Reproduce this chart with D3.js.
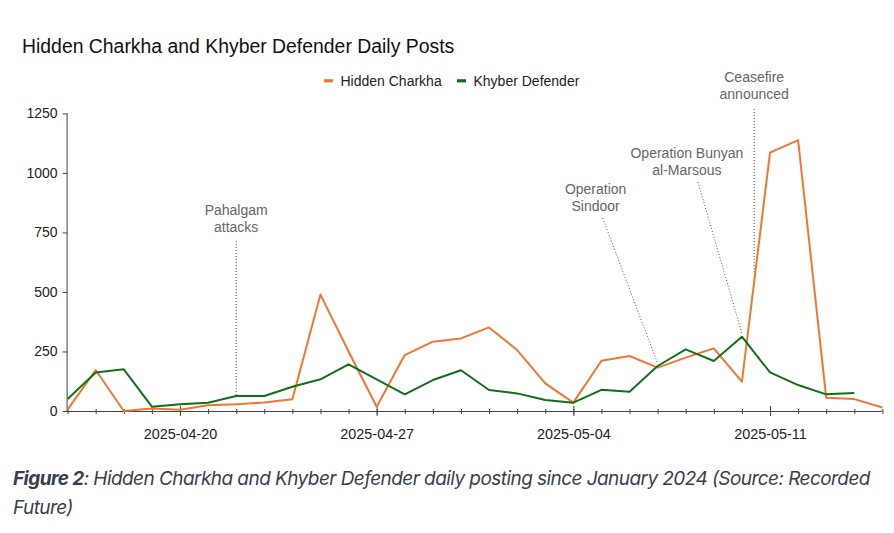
<!DOCTYPE html>
<html>
<head>
<meta charset="utf-8">
<script src="https://cdn.jsdelivr.net/npm/d3@7"></script>
<style>
  body { margin: 0; background: #fff; }
  svg { display: block; font-family: "Liberation Sans", Arial, sans-serif; }
</style>
</head>
<body>
<div id="chart"></div>
<script>
// daily post counts
var dates = ["2025-04-16","2025-04-17","2025-04-18","2025-04-19","2025-04-20","2025-04-21","2025-04-22",
  "2025-04-23","2025-04-24","2025-04-25","2025-04-26","2025-04-27","2025-04-28","2025-04-29","2025-04-30",
  "2025-05-01","2025-05-02","2025-05-03","2025-05-04","2025-05-05","2025-05-06","2025-05-07","2025-05-08",
  "2025-05-09","2025-05-10","2025-05-11","2025-05-12","2025-05-13","2025-05-14","2025-05-15"];
var hiddenCharkha = [6, 172, 0, 11, 5, 24, 28, 36, 49, 489, 250, 18, 235, 291, 305, 351, 256, 116, 35,
  211, 231, 182, 224, 263, 123, 1085, 1138, 56, 50, 15];
var khyberDefender = [50, 162, 175, 18, 28, 35, 63, 63, 102, 133, 196, 133, 70, 130, 171, 88, 74, 46, 35,
  89, 81, 189, 259, 210, 312, 162, 109, 70, 76, null];
var seriesNames = ["Hidden Charkha", "Khyber Defender"];
var yTicks = [0, 250, 500, 750, 1000, 1250];

// event annotations
var eventDates = ["2025-04-22T00:00", "2025-05-07T00:00", "2025-05-10T00:00", "2025-05-10T10:30"];
var eventValues = [63, 200, 326, 580];
var eventLabels = [["Pahalgam", "attacks"], ["Operation", "Sindoor"],
  ["Operation Bunyan", "al-Marsous"], ["Ceasefire", "announced"]];

var titleText = "Hidden Charkha and Khyber Defender Daily Posts";
var captionBold = "Figure 2";
var captionLines = [": Hidden Charkha and Khyber Defender daily posting since January 2024 (Source: Recorded", "Future)"];

// layout for the annotation labels: text offset from the event x, first line centre y, start of the leader line
var eventLayout = [
  {tdx: 0, ty: 210, ldx: 0, ly: 241},
  {tdx: -62, ty: 189, ldx: -55, ly: 218},
  {tdx: -55, ty: 153, ldx: -44, ly: 182},
  {tdx: 0, ty: 77, ldx: 0, ly: 109}
];

var W = 894, H = 533;
var colors = ["#f07634", "#11701a"];
var parse = d3.timeParse("%Y-%m-%d");
var parseT = d3.timeParse("%Y-%m-%dT%H:%M");

var svg = d3.select("#chart").append("svg")
  .attr("width", W).attr("height", H);

svg.append("rect").attr("width", W).attr("height", H).attr("fill", "#fff");

var x = d3.scaleTime()
  .domain([parse(dates[0]), parse(dates[dates.length - 1])])
  .range([67.6, 882.4]);

var y = d3.scaleLinear()
  .domain([0, 1250])
  .range([411, 113.4]);

// title
svg.append("text")
  .attr("x", 22).attr("y", 53)
  .attr("font-size", 19.4).attr("fill", "#111")
  .text(titleText);

// legend
var legend = svg.append("g");
var legX = [324, 457];
seriesNames.forEach(function(n, i) {
  legend.append("rect")
    .attr("x", legX[i]).attr("y", 79.2).attr("width", 9).attr("height", 3.2)
    .attr("fill", colors[i]);
  legend.append("text")
    .attr("x", legX[i] + 16.5).attr("y", 86)
    .attr("font-size", 14).attr("fill", "#222")
    .text(n);
});

// x axis: daily minor ticks, weekly labelled ticks
var xMinor = svg.append("g")
  .attr("transform", "translate(0," + y(0) + ")")
  .call(d3.axisBottom(x).ticks(d3.timeDay.every(1)).tickSize(3).tickFormat(""));
xMinor.select(".domain").remove();
xMinor.selectAll(".tick line").attr("y1", -2).attr("stroke", "#444");

var xMajor = svg.append("g")
  .attr("transform", "translate(0," + y(0) + ")")
  .call(d3.axisBottom(x).ticks(d3.timeWeek.every(1)).tickSize(5).tickPadding(13)
    .tickFormat(d3.timeFormat("%Y-%m-%d")));
xMajor.select(".domain").attr("stroke", "#444").attr("d", "M63,0.5H882.4");
xMajor.selectAll(".tick line").attr("y1", -5).attr("stroke", "#444");
xMajor.selectAll(".tick text").attr("font-size", 14.4).attr("fill", "#222")
  .attr("font-family", "'Liberation Sans', Arial, sans-serif");

// y axis
var yAxis = svg.append("g")
  .attr("transform", "translate(" + x.range()[0] + ",0)")
  .call(d3.axisLeft(y).tickValues(yTicks).tickSize(5).tickPadding(5).tickFormat(d3.format("d")));
yAxis.select(".domain").attr("stroke", "#444").attr("d", "M-0.5," + y(1250) + "V" + y(0));
yAxis.selectAll(".tick line").attr("stroke", "#444");
yAxis.selectAll(".tick text").attr("font-size", 14).attr("fill", "#222")
  .attr("font-family", "'Liberation Sans', Arial, sans-serif");

// annotations
eventLabels.forEach(function(lines, i) {
  var ex = x(parseT(eventDates[i]));
  var L = eventLayout[i];
  svg.append("line")
    .attr("x1", ex + L.ldx).attr("y1", L.ly)
    .attr("x2", ex).attr("y2", y(eventValues[i]))
    .attr("stroke", "#555").attr("stroke-width", 1)
    .attr("stroke-dasharray", "1,2");
  lines.forEach(function(t, j) {
    svg.append("text")
      .attr("x", ex + L.tdx).attr("y", L.ty + 5 + j * 17)
      .attr("text-anchor", "middle")
      .attr("font-size", 14).attr("fill", "#666")
      .text(t);
  });
});

// lines
var allSeries = [hiddenCharkha, khyberDefender];
allSeries.forEach(function(vals, i) {
  var line = d3.line()
    .defined(function(d) { return d != null; })
    .x(function(d, k) { return x(parse(dates[k])); })
    .y(function(d) { return y(d); });
  svg.append("path")
    .datum(vals)
    .attr("fill", "none")
    .attr("stroke", colors[i])
    .attr("stroke-width", 2)
    .attr("stroke-linejoin", "round")
    .attr("d", line);
});

// caption
var cap = svg.append("text")
  .attr("font-family", "Inter, 'Noto Sans', sans-serif")
  .attr("font-style", "italic")
  .attr("font-size", 19)
  .attr("fill", "#373f4f")
  .attr("letter-spacing", -0.56);
var l1 = cap.append("tspan").attr("x", 13).attr("y", 485);
l1.append("tspan").attr("font-weight", "bold").text(captionBold);
l1.append("tspan").text(captionLines[0]);
cap.append("tspan").attr("x", 13).attr("y", 514).text(captionLines[1]);
</script>
</body>
</html>
